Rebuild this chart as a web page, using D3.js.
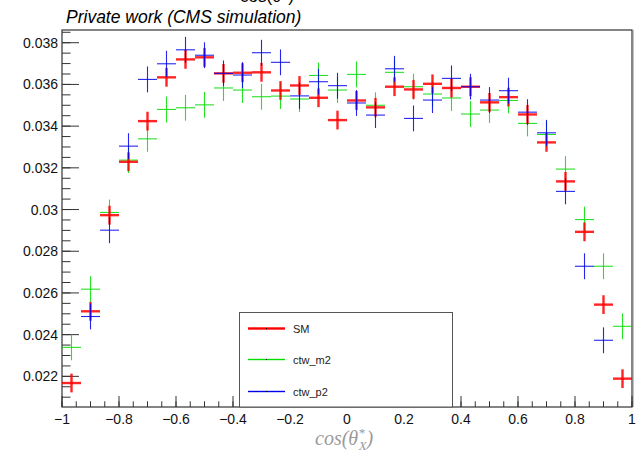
<!doctype html>
<html>
<head>
	<script src="https://d3js.org/d3.v7.min.js"></script>
	<meta charset="utf-8">
	<style>
		body { margin: 0; background: #fff; }
		.graph { width: 644px; height: 455px; }
		text { font-family: "Liberation Sans", Arial, sans-serif; }
	</style>
</head>
<body>
	<div class="graph"></div>

<script>
	// 30 bins between -1 and 1
	var binEdges = [-1, 1];
	var nBins = 30;

	var seriesNames = ["SM", "ctw_m2", "ctw_p2"];
	var seriesColors = ["#ff0000", "#00dd00", "#0000ee"];

	var sm = [0.02168, 0.02512, 0.02973, 0.03229, 0.03424, 0.03634, 0.03720, 0.03730, 0.03653, 0.03656,
	          0.03658, 0.03571, 0.03595, 0.03536, 0.03429, 0.03523, 0.03490, 0.03589, 0.03576, 0.03603,
	          0.03583, 0.03589, 0.03514, 0.03539, 0.03456, 0.03322, 0.03135, 0.02893, 0.02544, 0.02189];

	var ctw_m2 = [0.02339, 0.02618, 0.02986, 0.03237, 0.03339, 0.03480, 0.03488, 0.03502, 0.03583, 0.03573,
	              0.03541, 0.03544, 0.03530, 0.03643, 0.03573, 0.03648, 0.03500, 0.03658, 0.03589, 0.03554,
	              0.03535, 0.03458, 0.03477, 0.03523, 0.03413, 0.03360, 0.03194, 0.02952, 0.02728, 0.02440];

	// first and last bin are below the visible range
	var ctw_p2 = [null, 0.02487, 0.02901, 0.03304, 0.03624, 0.03699, 0.03766, 0.03740, 0.03653, 0.03645,
	              0.03752, 0.03706, 0.03545, 0.03613, 0.03594, 0.03511, 0.03453, 0.03675, 0.03437, 0.03525,
	              0.03629, 0.03589, 0.03525, 0.03570, 0.03467, 0.03368, 0.03087, 0.02728, 0.02373, null];

	var errors = [0.00045, 0.00062, 0.00062];

	var yTicks = [0.022, 0.024, 0.026, 0.028, 0.030, 0.032, 0.034, 0.036, 0.038];
	var yTickLabels = ["0.022", "0.024", "0.026", "0.028", "0.03", "0.032", "0.034", "0.036", "0.038"];
	var xTicks = [-1, -0.8, -0.6, -0.4, -0.2, 0, 0.2, 0.4, 0.6, 0.8, 1];
	var xTickLabels = ["\u22121", "\u22120.8", "\u22120.6", "\u22120.4", "\u22120.2", "0", "0.2", "0.4", "0.6", "0.8", "1"];

	var yRange = [0.02053, 0.03861];

	draw();

	function draw() {
	var width = 644, height = 455;
	var pLeft = 62, pRight = 632, pTop = 30, pBottom = 407;

	var svg = d3.select('.graph')
		.append('svg')
		.attr('width', width)
		.attr('height', height);

	var x = d3.scaleLinear().domain(binEdges).range([pLeft, pRight]);
	var y = d3.scaleLinear().domain(yRange).range([pBottom, pTop]);

	var binW = (binEdges[1] - binEdges[0]) / nBins;
	var centers = d3.range(nBins).map(function(i) { return binEdges[0] + (i + 0.5) * binW; });

	// titles (the top one is cut by the canvas edge, as in the original)
	svg.append('text')
		.attr('x', 240).attr('y', 2)
		.style('font-size', '17px')
		.text('cos(\u03b8*)');

	svg.append('text')
		.attr('x', 66).attr('y', 23)
		.style('font-size', '17.5px')
		.style('font-style', 'italic')
		.text('Private work (CMS simulation)');

	// clip for points
	svg.append('clipPath').attr('id', 'plotclip')
		.append('rect')
		.attr('x', pLeft).attr('y', pTop)
		.attr('width', pRight - pLeft).attr('height', pBottom - pTop);

	// frame
	svg.append('rect')
		.attr('x', pLeft).attr('y', pTop)
		.attr('width', pRight - pLeft).attr('height', pBottom - pTop)
		.style('fill', 'none')
		.style('stroke', '#333')
		.style('stroke-width', 1.2);
	svg.append('line')
		.attr('x1', pRight + 1).attr('x2', pRight + 1)
		.attr('y1', pTop).attr('y2', pBottom)
		.style('stroke', '#888').style('stroke-width', 1);

	// y axis ticks
	var yMinor = d3.range(0.021, 0.03851, 0.0005);
	svg.append('g').selectAll('line')
		.data(yMinor)
		.enter().append('line')
		.attr('x1', pLeft).attr('x2', pLeft + 8.5)
		.attr('y1', function(d) { return y(d); })
		.attr('y2', function(d) { return y(d); })
		.style('stroke', '#333');
	svg.append('g').selectAll('line')
		.data(yTicks)
		.enter().append('line')
		.attr('x1', pLeft).attr('x2', pLeft + 17)
		.attr('y1', function(d) { return y(d); })
		.attr('y2', function(d) { return y(d); })
		.style('stroke', '#333');
	svg.append('g').selectAll('text')
		.data(yTicks)
		.enter().append('text')
		.attr('x', pLeft - 4)
		.attr('y', function(d) { return y(d) + 5; })
		.attr('text-anchor', 'end')
		.style('font-size', '14px')
		.style('fill', '#111')
		.text(function(d, i) { return yTickLabels[i]; });

	// x axis ticks
	var xMinor = d3.range(-1, 1.001, 0.05);
	svg.append('g').selectAll('line')
		.data(xMinor)
		.enter().append('line')
		.attr('x1', function(d) { return x(d); })
		.attr('x2', function(d) { return x(d); })
		.attr('y1', pBottom).attr('y2', pBottom - 5.7)
		.style('stroke', '#333');
	svg.append('g').selectAll('line')
		.data(xTicks)
		.enter().append('line')
		.attr('x1', function(d) { return x(d); })
		.attr('x2', function(d) { return x(d); })
		.attr('y1', pBottom).attr('y2', pBottom - 11)
		.style('stroke', '#333');
	svg.append('g').selectAll('text')
		.data(xTicks)
		.enter().append('text')
		.attr('x', function(d) { return x(d); })
		.attr('y', pBottom + 17)
		.attr('text-anchor', 'middle')
		.style('font-size', '14px')
		.style('fill', '#111')
		.text(function(d, i) { return xTickLabels[i]; });

	// x axis title
	var xt = svg.append('text')
		.attr('x', 315).attr('y', 445)
		.style('font-family', '"Liberation Serif", "DejaVu Serif", serif')
		.style('font-style', 'italic')
		.style('font-size', '20px')
		.style('fill', '#9a9a9a');
	xt.append('tspan').text('cos(\u03b8');
	xt.append('tspan').attr('dy', -8).style('font-size', '13px').text('*');
	xt.append('tspan').attr('dy', 13).attr('dx', -6).style('font-size', '13px').text('X');
	xt.append('tspan').attr('dy', -5).text(')');

	// points, drawing order green, red, blue
	var allSeries = [sm, ctw_m2, ctw_p2];
	var order = [1, 0, 2];
	var pts = svg.append('g').attr('clip-path', 'url(#plotclip)');

	order.forEach(function(s) {
		var vals = allSeries[s];
		var lw = s === 0 ? 2.4 : 1.1;
		var g = pts.append('g');
		var data = vals.map(function(v, i) { return { c: centers[i], v: v }; })
			.filter(function(d) { return d.v !== null; });

		g.selectAll('.h').data(data).enter().append('line')
			.attr('x1', function(d) { return x(d.c - binW / 2); })
			.attr('x2', function(d) { return x(d.c + binW / 2); })
			.attr('y1', function(d) { return y(d.v); })
			.attr('y2', function(d) { return y(d.v); })
			.style('stroke', seriesColors[s])
			.style('stroke-width', lw)
			.style('opacity', 0.85);
		g.selectAll('.v').data(data).enter().append('line')
			.attr('x1', function(d) { return x(d.c); })
			.attr('x2', function(d) { return x(d.c); })
			.attr('y1', function(d) { return y(d.v - errors[s]); })
			.attr('y2', function(d) { return y(d.v + errors[s]); })
			.style('stroke', seriesColors[s])
			.style('stroke-width', lw)
			.style('opacity', 0.85);
	});

	// legend
	var lg = svg.append('g');
	lg.append('rect')
		.attr('x', 239.5).attr('y', 312.5)
		.attr('width', 213).attr('height', pBottom - 312.5)
		.style('fill', '#fff')
		.style('stroke', '#555')
		.style('stroke-width', 1);
	var legY = [328.5, 359.5, 391.5];
	seriesNames.forEach(function(name, i) {
		lg.append('rect')
			.attr('x', 248).attr('y', legY[i] - (i === 0 ? 1.2 : 0.7))
			.attr('width', 37).attr('height', i === 0 ? 2.4 : 1.4)
			.style('fill', seriesColors[i]);
		lg.append('rect')
			.attr('x', 266).attr('y', legY[i] - 0.5)
			.attr('width', 1).attr('height', 1)
			.style('fill', '#000');
		lg.append('text')
			.attr('x', 293).attr('y', legY[i] + 4)
			.style('font-size', '11px')
			.style('fill', '#222')
			.text(name);
	});
	}
</script>
</body>
</html>
